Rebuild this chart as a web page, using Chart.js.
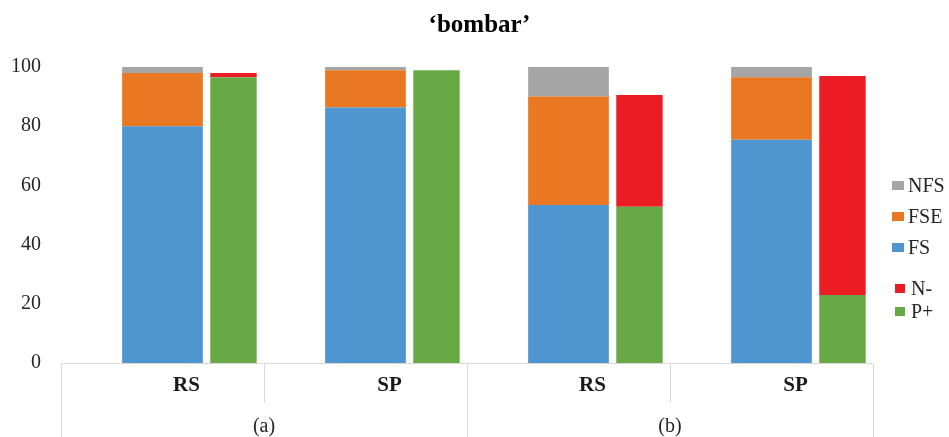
<!DOCTYPE html>
<html>
<head>
<meta charset="utf-8">
<script src="https://cdn.jsdelivr.net/npm/chart.js@4.4.1/dist/chart.umd.min.js"></script>
<style>
  html, body { margin: 0; padding: 0; background: #ffffff; }
  #wrap { width: 949px; height: 437px; }
</style>
</head>
<body>
<div id="wrap"><canvas id="c" width="949" height="437"></canvas></div>
<script>
// Categories along the x axis and their two groups
const categories = ['RS', 'SP', 'RS', 'SP'];
const groups = ['(a)', '(b)'];
const titleText = '\u2018bombar\u2019';

// Seed-type shares (%) for each category
const fs  = [80.0, 86.3, 53.4, 75.4];
const fse = [18.0, 12.6, 36.6, 21.1];
const nfs = [2.0, 1.1, 10.0, 3.5];

// Reaction shares (%) for each category
const pPlus  = [96.5, 98.9, 52.8, 23.0];
const nMinus = [1.5, 0.0, 37.7, 74.0];

// Value axis ticks
const yTicks = [0, 20, 40, 60, 80, 100];

const SERIF = '"Liberation Serif", "Times New Roman", serif';
const COLORS = {
  FS: '#4F95CF', FSE: '#EA7823', NFS: '#A5A5A5', 'P+': '#67AA45', 'N-': '#EC1C24'
};

// Three stacks per category: an empty spacer on the left, the seed-type
// stack centred on the category, and the reaction stack to its right.
const CAT_PCT = 1.049;
const datasets = [
  { label: '', data: categories.map(() => 0), stack: 'spacer', backgroundColor: 'rgba(0,0,0,0)', barPercentage: 0.5 },
  { label: 'FS',  data: fs,  stack: 'seed', backgroundColor: COLORS.FS,  barPercentage: 1.137 },
  { label: 'FSE', data: fse, stack: 'seed', backgroundColor: COLORS.FSE, barPercentage: 1.137 },
  { label: 'NFS', data: nfs, stack: 'seed', backgroundColor: COLORS.NFS, barPercentage: 1.137 },
  { label: 'P+',  data: pPlus,  stack: 'react', backgroundColor: COLORS['P+'], barPercentage: 0.654 },
  { label: 'N-',  data: nMinus, stack: 'react', backgroundColor: COLORS['N-'], barPercentage: 0.654 }
].map(d => Object.assign({
  categoryPercentage: CAT_PCT,
  borderWidth: 0
}, d));

// Legend rows: series name, row centre, marker size
const legendRows = [
  { name: 'NFS', cy: 185.5, bx: 892, bw: 12, bh: 9, tx: 908 },
  { name: 'FSE', cy: 216.5, bx: 892, bw: 12, bh: 9, tx: 908 },
  { name: 'FS',  cy: 247.5, bx: 892, bw: 12, bh: 9, tx: 908 },
  { name: 'N-',  cy: 288.5, bx: 895, bw: 10, bh: 9, tx: 911 },
  { name: 'P+',  cy: 311.5, bx: 895, bw: 10, bh: 9, tx: 911 }
];

const decorations = {
  id: 'decorations',
  afterDraw(chart) {
    const ctx = chart.ctx;
    const area = chart.chartArea;
    const xs = chart.scales.x;
    const n = categories.length;
    const centers = categories.map((_, i) => xs.getPixelForValue(i));
    const half = (centers[1] - centers[0]) / 2;
    const bounds = [centers[0] - half];
    for (let i = 0; i < n; i++) bounds.push(centers[i] + half);

    ctx.save();
    // title
    ctx.fillStyle = '#000000';
    ctx.font = 'bold 25px ' + SERIF;
    ctx.textAlign = 'center';
    ctx.textBaseline = 'alphabetic';
    ctx.fillText(titleText, 479.5, 31.5);

    // category axis frame
    ctx.strokeStyle = '#D9D9D9';
    ctx.lineWidth = 1;
    ctx.beginPath();
    const yb = Math.round(area.bottom) + 0.5;
    ctx.moveTo(bounds[0], yb);
    ctx.lineTo(bounds[n], yb);
    bounds.forEach((bx, i) => {
      const x = Math.round(bx) + 0.5;
      ctx.moveTo(x, yb);
      ctx.lineTo(x, i % 2 === 0 ? chart.height : yb + 39);
    });
    ctx.stroke();

    // group labels
    ctx.fillStyle = '#262626';
    ctx.font = '20px ' + SERIF;
    ctx.textBaseline = 'middle';
    groups.forEach((g, gi) => {
      const x = (bounds[gi * 2] + bounds[gi * 2 + 2]) / 2;
      ctx.fillText(g, x, 427);
    });

    // legend
    ctx.font = '20px ' + SERIF;
    ctx.textAlign = 'left';
    legendRows.forEach(r => {
      const ds = chart.data.datasets.find(d => d.label === r.name);
      ctx.fillStyle = ds.backgroundColor;
      ctx.fillRect(r.bx, r.cy - r.bh / 2, r.bw, r.bh);
      ctx.fillStyle = '#262626';
      ctx.fillText(ds.label, r.tx, r.cy + 1);
    });
    ctx.restore();
  }
};

new Chart(document.getElementById('c'), {
  type: 'bar',
  data: { labels: categories, datasets },
  options: {
    responsive: false,
    animation: false,
    devicePixelRatio: 1,
    layout: { padding: { top: 67, right: 76, left: 0, bottom: 0 } },
    plugins: {
      legend: { display: false },
      title: { display: false },
      tooltip: { enabled: false }
    },
    scales: {
      x: {
        stacked: true,
        grid: { display: false, drawTicks: false },
        border: { display: false },
        ticks: {
          font: { family: SERIF, size: 21, weight: 'bold' },
          color: '#1a1a1a',
          padding: 10,
          labelOffset: 24,
          maxRotation: 0,
          autoSkip: false
        },
        afterFit(s) { s.height = 74; }
      },
      y: {
        stacked: true,
        min: yTicks[0],
        max: yTicks[yTicks.length - 1],
        afterBuildTicks(s) { s.ticks = yTicks.map(v => ({ value: v })); },
        grid: { display: false, drawTicks: false },
        border: { display: false },
        ticks: {
          font: { family: SERIF, size: 20 },
          color: '#262626',
          padding: 20
        },
        afterFit(s) { s.width = 61; }
      }
    }
  },
  plugins: [decorations]
});
</script>
</body>
</html>
